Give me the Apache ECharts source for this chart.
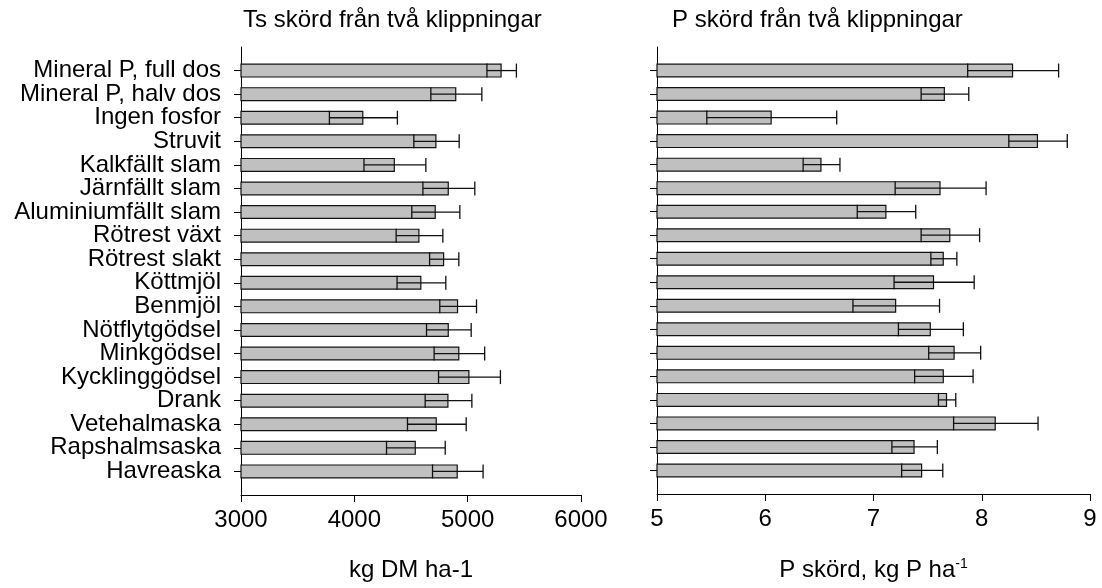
<!DOCTYPE html>
<html>
<head>
<meta charset="utf-8">
<script src="https://cdn.jsdelivr.net/npm/echarts@6/dist/echarts.min.js"></script>
<style>
  html, body { margin: 0; padding: 0; background: #fff; }
  #chart { width: 1102px; height: 588px; }
</style>
</head>
<body>
<div id="chart"></div>
<script>
// Treatments, top to bottom
const categories = [
  'Mineral P, full dos', 'Mineral P, halv dos', 'Ingen fosfor', 'Struvit',
  'Kalkfällt slam', 'Järnfällt slam', 'Aluminiumfällt slam', 'Rötrest växt',
  'Rötrest slakt', 'Köttmjöl', 'Benmjöl', 'Nötflytgödsel', 'Minkgödsel',
  'Kycklinggödsel', 'Drank', 'Vetehalmaska', 'Rapshalmsaska', 'Havreaska'
];

// Dry-matter yield, kg DM/ha (mean and error)
const tsMean = [5300, 4900, 4080, 4725, 4358, 4834, 4719, 4575, 4793, 4592, 4916, 4834, 4927, 5016, 4831, 4728, 4543, 4913];
const tsErr  = [130, 225, 300, 200, 273, 229, 212, 206, 129, 215, 162, 197, 223, 273, 206, 259, 259, 223];

// Phosphorus yield, kg P/ha (mean and error)
const pMean = [8.29, 7.66, 6.06, 8.52, 6.52, 7.62, 7.12, 7.71, 7.65, 7.56, 7.21, 7.53, 7.75, 7.65, 7.68, 8.13, 7.38, 7.45];
const pErr  = [0.42, 0.22, 0.60, 0.27, 0.17, 0.42, 0.27, 0.27, 0.12, 0.37, 0.40, 0.30, 0.24, 0.27, 0.08, 0.39, 0.21, 0.19];

// Axis ticks
const tsTicks = { min: 3000, max: 6000, interval: 1000 };
const pTicks  = { min: 5, max: 9, interval: 1 };

const FONT = '"Liberation Sans", Arial, Helvetica, sans-serif';
const INK = '#000';

// Empty slots at both ends give the half-step margins above and below the bars
const axisCats = [''].concat(categories, ['']);
const padded = arr => [null].concat(arr, [null]);
const lastIdx = axisCats.length - 1;

function errData(mean, err) {
  return mean.map((m, i) => [m - err[i], m + err[i], i + 1]);
}

function renderErr(params, api) {
  const lo = api.coord([api.value(0), api.value(2)]);
  const hi = api.coord([api.value(1), api.value(2)]);
  const h = 7;
  const style = { stroke: '#111', lineWidth: 1.3 };
  return {
    type: 'group',
    children: [
      { type: 'line', shape: { x1: lo[0], y1: lo[1], x2: hi[0], y2: hi[1] }, style },
      { type: 'line', shape: { x1: lo[0], y1: lo[1] - h, x2: lo[0], y2: lo[1] + h }, style },
      { type: 'line', shape: { x1: hi[0], y1: hi[1] - h, x2: hi[0], y2: hi[1] + h }, style }
    ]
  };
}

function yAxis(gridIndex, showLabels) {
  return {
    type: 'category',
    gridIndex,
    data: axisCats,
    inverse: true,
    boundaryGap: false,
    axisLine: { show: true, lineStyle: { color: INK, width: 1 } },
    axisTick: {
      show: true, length: 7, lineStyle: { color: INK, width: 1 },
      interval: (i) => i > 0 && i < lastIdx
    },
    axisLabel: {
      show: showLabels, interval: 0, margin: 20,
      fontSize: 24, color: INK, fontFamily: FONT
    },
    splitLine: { show: false }
  };
}

function xAxis(gridIndex, ticks, name) {
  return {
    type: 'value',
    gridIndex,
    min: ticks.min, max: ticks.max, interval: ticks.interval,
    axisLine: { show: true, onZero: false, lineStyle: { color: INK, width: 1 } },
    axisTick: { show: true, length: 7, lineStyle: { color: INK, width: 1 } },
    axisLabel: {
      fontSize: 24, color: INK, fontFamily: FONT, margin: 13,
      formatter: (v) => String(v)
    },
    splitLine: { show: false },
    name,
    nameLocation: 'middle',
    nameGap: 63,
    nameTextStyle: {
      fontSize: 24, color: INK, fontFamily: FONT,
      rich: {
        b: { fontSize: 24, color: INK, fontFamily: FONT, lineHeight: 26 },
        sup: { fontSize: 14, color: INK, fontFamily: FONT, verticalAlign: 'top', lineHeight: 26, padding: [0, 0, 12, 0] }
      }
    }
  };
}

const barStyle = { color: '#c0c0c0', borderColor: '#111', borderWidth: 1.2 };

const chart = echarts.init(document.getElementById('chart'), null, { renderer: 'canvas' });
chart.setOption({
  backgroundColor: '#fff',
  animation: false,
  title: [
    { text: 'Ts skörd från två klippningar', left: 243, top: 8, padding: 0,
      textStyle: { fontSize: 24, fontWeight: 'normal', color: INK, fontFamily: FONT } },
    { text: 'P skörd från två klippningar', left: 672, top: 8, padding: 0,
      textStyle: { fontSize: 24, fontWeight: 'normal', color: INK, fontFamily: FONT } }
  ],
  grid: [
    { left: 241, top: 47, width: 340, height: 448, containLabel: false },
    { left: 657, top: 47, width: 433, height: 448, containLabel: false }
  ],
  xAxis: [
    xAxis(0, tsTicks, 'kg DM ha-1'),
    xAxis(1, pTicks, '{b|P skörd, kg P ha}{sup|-1}')
  ],
  yAxis: [yAxis(0, true), yAxis(1, false)],
  series: [
    { type: 'bar', xAxisIndex: 0, yAxisIndex: 0, data: padded(tsMean), barWidth: 14,
      itemStyle: barStyle, clip: true, silent: true },
    { type: 'custom', xAxisIndex: 0, yAxisIndex: 0, data: errData(tsMean, tsErr),
      encode: { x: [0, 1], y: 2 }, renderItem: renderErr, z: 5, silent: true },
    { type: 'bar', xAxisIndex: 1, yAxisIndex: 1, data: padded(pMean), barWidth: 14,
      itemStyle: barStyle, clip: true, silent: true },
    { type: 'custom', xAxisIndex: 1, yAxisIndex: 1, data: errData(pMean, pErr),
      encode: { x: [0, 1], y: 2 }, renderItem: renderErr, z: 5, silent: true }
  ]
});
</script>
</body>
</html>
